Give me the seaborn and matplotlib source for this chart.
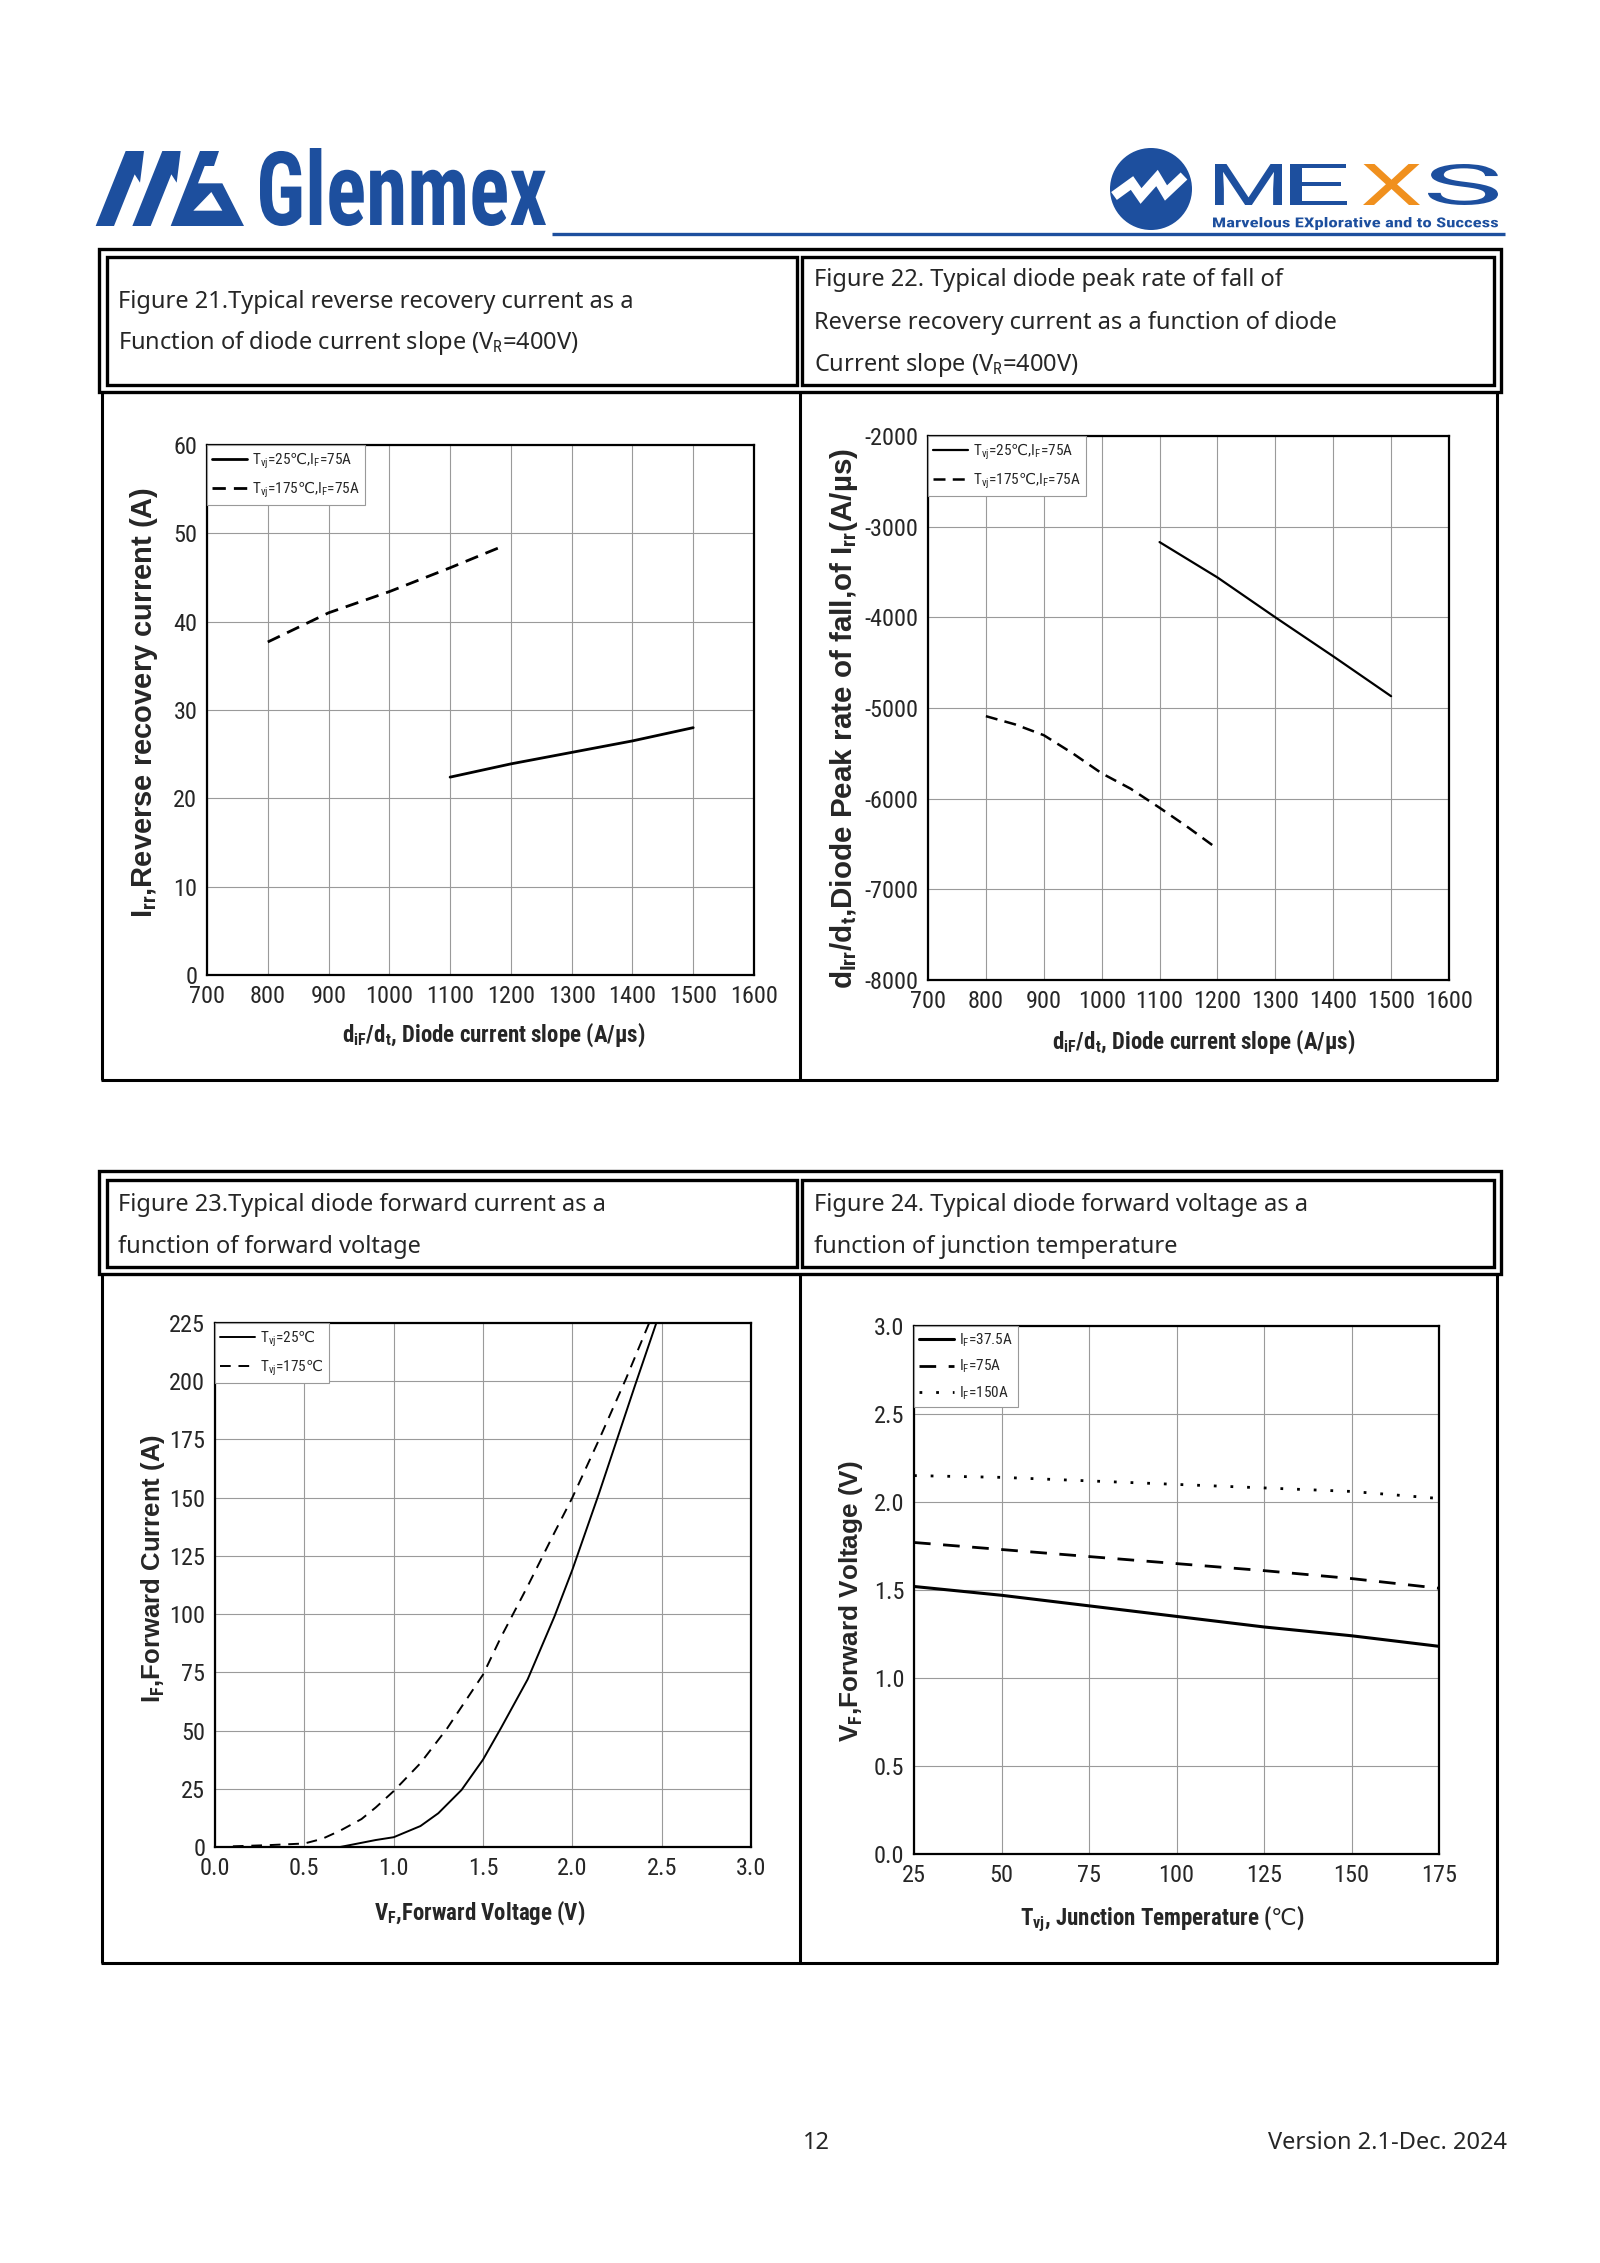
import numpy as np
import pandas as pd
import seaborn as sns
import matplotlib.pyplot as plt
from matplotlib import font_manager
from matplotlib.patches import Rectangle, Polygon, Circle, PathPatch
from matplotlib.lines import Line2D
from matplotlib.textpath import TextPath
from matplotlib.font_manager import FontProperties
from matplotlib.transforms import Affine2D

# ---- data ----
# Figure 21: Irr vs diF/dt
f21_x_25 = [1100, 1200, 1300, 1400, 1500]
f21_irr_25 = [22.4, 23.9, 25.2, 26.5, 28.0]
f21_x_175 = [800, 900, 1000, 1100, 1185]
f21_irr_175 = [37.7, 41.0, 43.4, 46.1, 48.5]

# Figure 22: dIrr/dt vs diF/dt
f22_x_25 = [1100, 1200, 1300, 1400, 1500]
f22_rate_25 = [-3170, -3560, -4000, -4430, -4870]
f22_x_175 = [800, 850, 900, 950, 1000, 1050, 1100, 1150, 1195]
f22_rate_175 = [-5090, -5180, -5300, -5500, -5720, -5890, -6100, -6320, -6530]

# Figure 23: IF vs VF
f23_vf_25 = [0.1, 0.7, 0.8, 0.9, 1.0, 1.15, 1.25, 1.38, 1.5, 1.6, 1.75, 1.9, 2.0, 2.15, 2.25, 2.35, 2.47]
f23_if_25 = [0, 0, 1.5, 3.0, 4.2, 9, 14.5, 24.5, 37.5, 51, 72, 99, 119, 152, 175, 198, 225]
f23_vf_175 = [0.1, 0.3, 0.5, 0.6, 0.7, 0.82, 0.9, 1.0, 1.15, 1.3, 1.5, 1.6, 1.75, 1.9, 2.0, 2.15, 2.3, 2.43]
f23_if_175 = [0.3, 0.8, 1.5, 3.5, 7, 12, 17, 24, 36, 51, 74, 90, 112, 135, 150, 175, 201, 225]

# Figure 24: VF vs Tvj
f24_tvj = [25, 50, 75, 100, 125, 150, 175]
f24_vf_375 = [1.52, 1.47, 1.41, 1.35, 1.29, 1.24, 1.18]
f24_vf_75 = [1.77, 1.73, 1.69, 1.65, 1.61, 1.565, 1.51]
f24_vf_150 = [2.15, 2.14, 2.12, 2.10, 2.08, 2.06, 2.02]

# ticks
slope_ticks = [700, 800, 900, 1000, 1100, 1200, 1300, 1400, 1500, 1600]
irr_ticks = [0, 10, 20, 30, 40, 50, 60]
rate_ticks = [-8000, -7000, -6000, -5000, -4000, -3000, -2000]
vf_ticks = [0.0, 0.5, 1.0, 1.5, 2.0, 2.5, 3.0]
vf_labels = ["0.0", "0.5", "1.0", "1.5", "2.0", "2.5", "3.0"]
if_ticks = [0, 25, 50, 75, 100, 125, 150, 175, 200, 225]
tvj_ticks = [25, 50, 75, 100, 125, 150, 175]

W, H, DPI = 1600, 2263, 100
BLUE = '#1d4f9e'
ORANGE = '#f0901e'

# narrowest sans we can find for the chart texts
installed = {f.name for f in font_manager.fontManager.ttflist}
NARROW = 'Liberation Sans'
for cand in ['Liberation Sans Narrow', 'Roboto Condensed', 'Open Sans Condensed']:
    if cand in installed:
        NARROW = cand
        break
CONDENSED = NARROW != 'Liberation Sans'
TICK_FS = 17.5 if CONDENSED else 14
XLAB_FS = 16.5 if CONDENSED else 14
LEG_FS = 11 if CONDENSED else 9.8

sns.set_style("white")
plt.rcParams['font.family'] = [NARROW, 'DejaVu Sans']
plt.rcParams['mathtext.fontset'] = 'custom'
plt.rcParams['mathtext.rm'] = NARROW
plt.rcParams['mathtext.it'] = NARROW + ':italic'
plt.rcParams['mathtext.bf'] = NARROW + ':bold'
plt.rcParams['mathtext.sf'] = 'DejaVu Sans'
plt.rcParams['axes.unicode_minus'] = False

fig = plt.figure(figsize=(W / DPI, H / DPI), dpi=DPI)
# pixel transform, origin top-left
PX = Affine2D().scale(1 / DPI, -1 / DPI).translate(0, H / DPI) + fig.dpi_scale_trans


def line(xs, ys, lw=2.2, color='black'):
    fig.add_artist(Line2D(xs, ys, color=color, lw=lw, transform=PX, solid_capstyle='butt'))


def box(x0, y0, x1, y1, lw=2.2):
    fig.add_artist(Rectangle((x0, y0), x1 - x0, y1 - y0, fill=False, ec='black', lw=lw, transform=PX))


def path_text(s, x0, y0, x1, y1, color, family, weight='normal'):
    tp = TextPath((0, 0), s, size=100, prop=FontProperties(family=family, weight=weight))
    ext = tp.get_extents()
    tr = (Affine2D().translate(-ext.x0, -ext.y0)
          .scale((x1 - x0) / ext.width, -(y1 - y0) / ext.height)
          .translate(x0, y1) + PX)
    fig.add_artist(PathPatch(tp, transform=tr, color=color, lw=0))


def new_axes(l, t, r, b):
    return fig.add_axes([l / W, 1 - b / H, (r - l) / W, (b - t) / H])


def style(ax, xlim, ylim, xt, yt, xtl=None, ytl=None):
    ax.set_xlim(*xlim)
    ax.set_ylim(*ylim)
    ax.set_xticks(xt)
    ax.set_yticks(yt)
    if xtl:
        ax.set_xticklabels(xtl)
    if ytl:
        ax.set_yticklabels(ytl)
    ax.grid(True, color='#9a9a9a', lw=0.8)
    ax.set_axisbelow(True)
    for sp in ax.spines.values():
        sp.set_color('black')
        sp.set_linewidth(1.6)
    ax.tick_params(length=0, labelsize=TICK_FS, pad=7)


def labels(ax, xl, yl, xpos, ypos, ysize):
    ax.set_xlabel(xl, fontsize=XLAB_FS, fontweight='bold')
    ax.set_ylabel(yl, fontsize=ysize, fontweight='bold', family=['Liberation Sans', 'DejaVu Sans'])
    ax.xaxis.set_label_coords(*xpos)
    ax.yaxis.set_label_coords(*ypos)


def legend(ax):
    ax.legend(loc='upper left', bbox_to_anchor=(0, 1), borderaxespad=0, frameon=True,
              fancybox=False, edgecolor='#999999', framealpha=1, fontsize=LEG_FS,
              handlelength=2.3, handletextpad=0.3, labelspacing=0.6, borderpad=0.35)
    ax.get_legend().get_frame().set_linewidth(0.8)


lab25 = r"$\mathrm{T_{vj}}$=25$\mathsf{℃}$,$\mathrm{I_F}$=75A"
lab175 = r"$\mathrm{T_{vj}}$=175$\mathsf{℃}$,$\mathrm{I_F}$=75A"
dash = (0, (4.8, 2.9))

# ---- Figure 21 ----
ax = new_axes(207, 445, 754, 975)
sns.lineplot(x=f21_x_25, y=f21_irr_25, ax=ax, color='black', lw=2, label=lab25)
sns.lineplot(x=f21_x_175, y=f21_irr_175, ax=ax, color='black', lw=2, linestyle=dash, label=lab175)
style(ax, (700, 1600), (0, 60), slope_ticks, irr_ticks)
labels(ax, r"$\mathbf{d_{iF}/d_t}$, Diode current slope (A/µs)",
       r"I$_{\mathbf{rr}}$,Reverse recovery current (A)", (0.525, -0.085), (-0.086, 0.515), 21)
legend(ax)

# ---- Figure 22 ----
ax = new_axes(928, 436, 1449, 980)
sns.lineplot(x=f22_x_25, y=f22_rate_25, ax=ax, color='black', lw=1.6, label=lab25)
sns.lineplot(x=f22_x_175, y=f22_rate_175, ax=ax, color='black', lw=1.8, linestyle=dash, label=lab175)
style(ax, (700, 1600), (-8000, -2000), slope_ticks, rate_ticks)
labels(ax, r"$\mathbf{d_{iF}/d_t}$, Diode current slope (A/µs)",
       r"d$_{\mathbf{Irr}}$/d$_{\mathbf{t}}$,Diode Peak rate of fall,of I$_{\mathbf{rr}}$(A/µs)",
       (0.53, -0.086), (-0.13, 0.48), 21.3)
legend(ax)

# ---- Figure 23 ----
ax = new_axes(215, 1323, 751, 1847)
sns.lineplot(x=f23_vf_25, y=f23_if_25, ax=ax, color='black', lw=1.4, label=r"$\mathrm{T_{vj}}$=25$\mathsf{℃}$")
sns.lineplot(x=f23_vf_175, y=f23_if_175, ax=ax, color='black', lw=1.4, linestyle=(0, (5.5, 4)),
             label=r"$\mathrm{T_{vj}}$=175$\mathsf{℃}$")
style(ax, (0, 3), (0, 225), vf_ticks, if_ticks, xtl=vf_labels)
labels(ax, r"$\mathbf{V_F}$,Forward Voltage (V)", r"I$_{\mathbf{F}}$,Forward Current (A)",
       (0.494, -0.097), (-0.09, 0.532), 18.5)
legend(ax)

# ---- Figure 24 ----
ax = new_axes(914, 1326, 1439, 1854)
sns.lineplot(x=f24_tvj, y=f24_vf_375, ax=ax, color='black', lw=2.2, label=r"$\mathrm{I_F}$=37.5A")
sns.lineplot(x=f24_tvj, y=f24_vf_75, ax=ax, color='black', lw=2.0, linestyle=(0, (6, 4.5)),
             label=r"$\mathrm{I_F}$=75A")
sns.lineplot(x=f24_tvj, y=f24_vf_150, ax=ax, color='black', lw=2.0, linestyle=(0, (1, 5)),
             label=r"$\mathrm{I_F}$=150A")
style(ax, (25, 175), (0, 3), tvj_ticks, vf_ticks, ytl=vf_labels)
labels(ax, r"$\mathbf{T_{vj}}$, Junction Temperature ($\mathsf{℃}$)", r"V$_{\mathbf{F}}$,Forward Voltage (V)",
       (0.474, -0.093), (-0.093, 0.479), 18.8)
legend(ax)

# ---- table frames ----
for top, hbot, bot in [(248.5, 391.5, 1080), (1171, 1274, 1963)]:
    box(99, top, 1501, hbot, lw=2.4)
    box(106.5, top + 8.5, 797, hbot - 7, lw=2.4)
    box(802, top + 8.5, 1494, hbot - 7, lw=2.4)
    line([102, 102], [hbot, bot], lw=2.2)
    line([800, 800], [hbot, bot], lw=2.2)
    line([1497, 1497], [hbot, bot], lw=2.2)
    line([101, 1498], [bot, bot], lw=2.2)

hdr = dict(fontsize=17, family=['Noto Sans', 'DejaVu Sans'], va='center', ha='left', transform=PX)
fig.text(118, 302, "Figure 21.Typical reverse recovery current as a", **hdr)
fig.text(118, 343, r"Function of diode current slope (V$_\mathrm{R}$=400V)", **hdr)
fig.text(814, 280, "Figure 22. Typical diode peak rate of fall of", **hdr)
fig.text(814, 323, "Reverse recovery current as a function of diode", **hdr)
fig.text(814, 365, r"Current slope (V$_\mathrm{R}$=400V)", **hdr)
fig.text(118, 1205, "Figure 23.Typical diode forward current as a", **hdr)
fig.text(118, 1247, "function of forward voltage", **hdr)
fig.text(814, 1205, "Figure 24. Typical diode forward voltage as a", **hdr)
fig.text(814, 1247, "function of junction temperature", **hdr)

# ---- footer ----
fig.text(816, 2143, "12", fontsize=17, family=['Noto Sans', 'DejaVu Sans'], va='center', ha='center', transform=PX)
fig.text(1507, 2143, "Version 2.1-Dec. 2024", fontsize=17, family=['Noto Sans', 'DejaVu Sans'],
         va='center', ha='right', transform=PX)

# ---- header logos ----
def zpt(pts, ox=94, oy=146):
    return [(ox + a / 3, oy + b / 3) for a, b in pts]


mg_shapes = [
    [(5, 240), (95, 15), (150, 15), (138, 110), (122, 85), (60, 240)],
    [(115, 240), (205, 15), (260, 15), (248, 110), (232, 85), (170, 240)],
    [(230, 240), (318, 15), (375, 15), (360, 60), (332, 60), (312, 112), (385, 112), (450, 240)],
]
for pts in mg_shapes:
    fig.add_artist(Polygon(zpt(pts), closed=True, color=BLUE, lw=0, transform=PX))
fig.add_artist(Polygon(zpt([(298, 194), (385, 194), (352, 138)]), closed=True, color='white', lw=0,
                       transform=PX))
path_text("Glenmex", 260, 148, 546, 226, BLUE, [NARROW, 'DejaVu Sans'], 'bold')
line([552, 1505], [234, 234], lw=2.4, color=BLUE)

fig.add_artist(Circle((1151, 189), 41, color=BLUE, lw=0, transform=PX))
fig.add_artist(Line2D([1114, 1132, 1141, 1157, 1166, 1184], [196, 183, 196, 178, 193, 176],
                      color='white', lw=7, solid_joinstyle='miter', solid_capstyle='butt', transform=PX))
path_text("M", 1215, 164, 1282, 205, BLUE, ['Roboto', 'DejaVu Sans'])
path_text("E", 1290, 164, 1347, 205, BLUE, ['Roboto', 'DejaVu Sans'])
path_text("X", 1363, 164, 1420, 205, ORANGE, ['Roboto', 'DejaVu Sans'])
path_text("S", 1428, 164, 1498, 205, BLUE, ['Roboto', 'DejaVu Sans'])
path_text("Marvelous EXplorative and to Success", 1213, 217, 1498, 230, BLUE,
          [NARROW, 'DejaVu Sans'], 'bold')

fig.savefig("out.png", dpi=DPI)
